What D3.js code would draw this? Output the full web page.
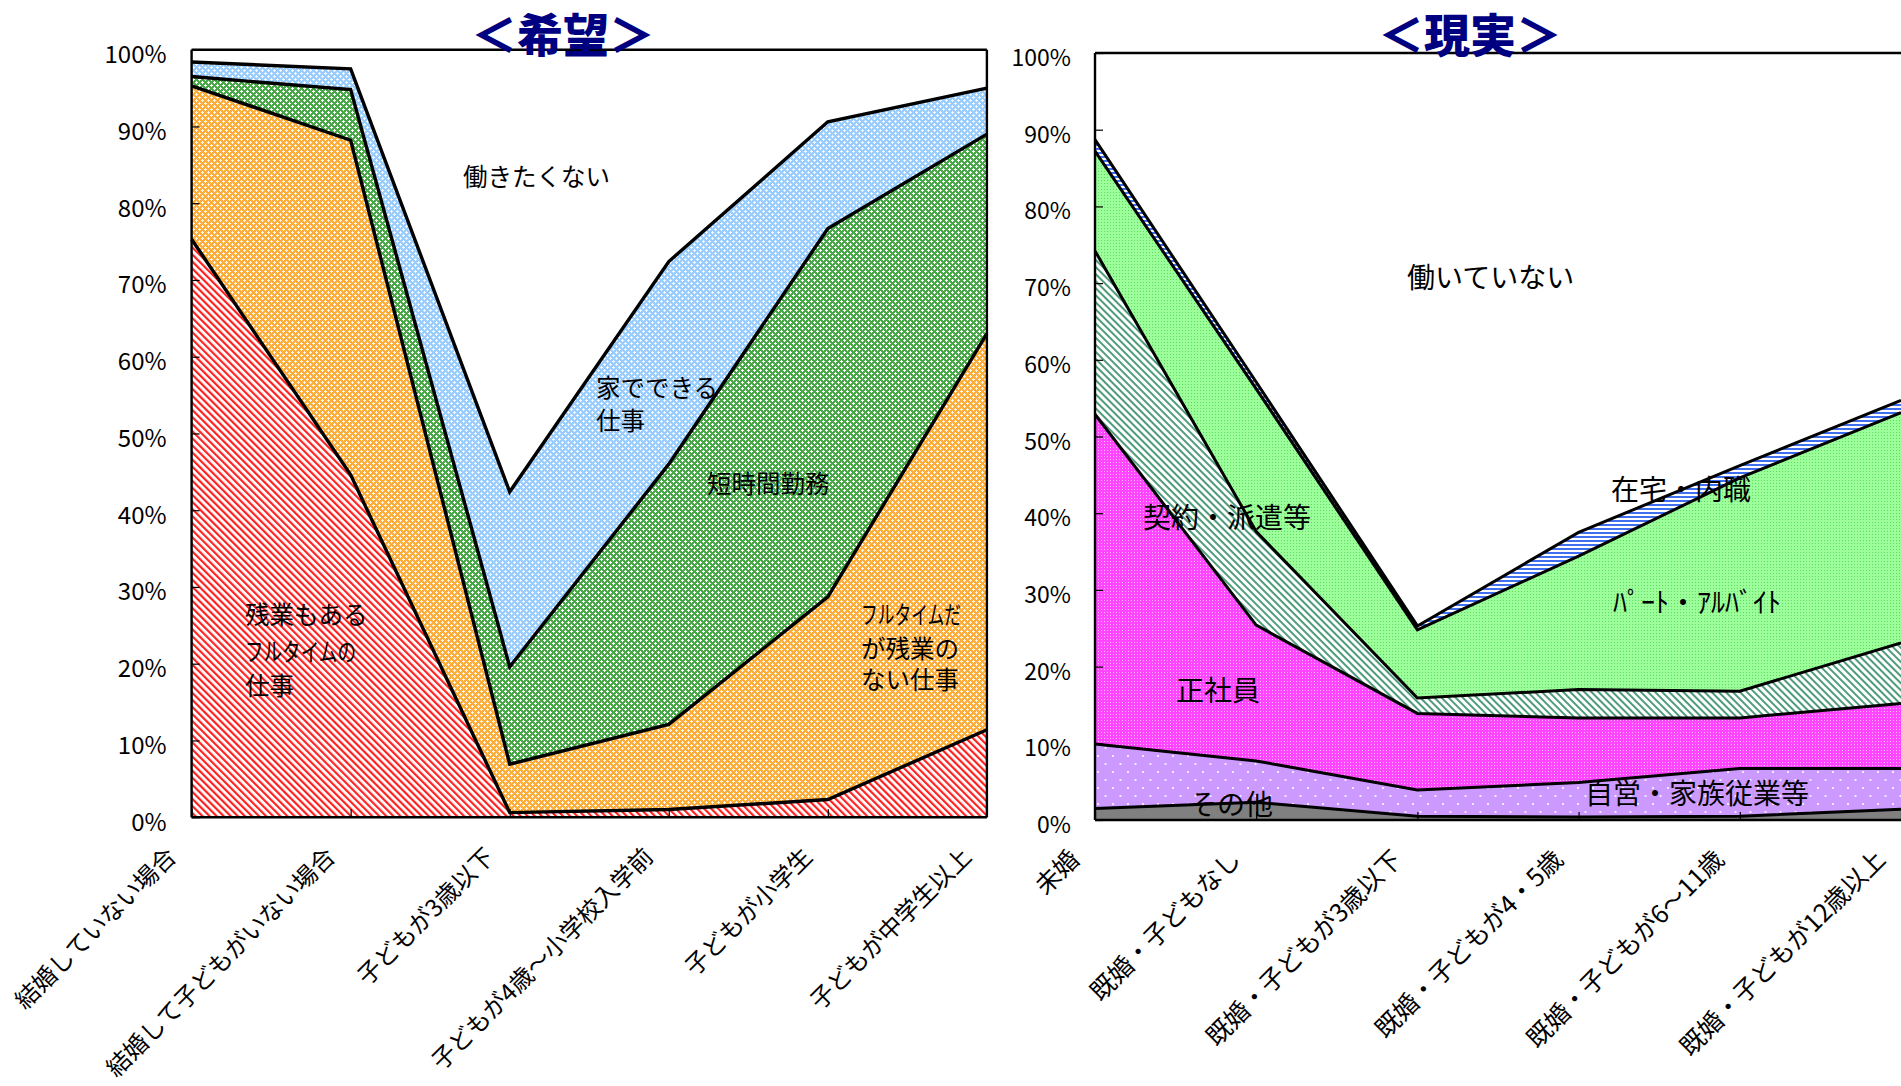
<!DOCTYPE html>
<html><head><meta charset="utf-8">
<script src="https://cdn.jsdelivr.net/npm/d3@7"></script>
<style>
html,body{margin:0;padding:0;background:#fff;}
svg{display:block;font-family:"Noto Sans CJK JP","Noto Sans",sans-serif;}
</style></head>
<body>
<svg id="chart" width="1901" height="1086"></svg>
<script>
// ---------- DATA ----------
const leftCategories = ["結婚していない場合","結婚して子どもがいない場合","子どもが3歳以下","子どもが4歳～小学校入学前","子どもが小学生","子どもが中学生以上"];
const leftSeriesNames = ["残業もあるフルタイムの仕事","フルタイムだが残業のない仕事","短時間勤務","家でできる仕事"];
const leftFullTimeOvertime = [75.3, 44.6, 0.6, 1.0, 2.3, 11.4];
const leftFullTimeNoOvertime = [20.0, 43.6, 6.3, 11.1, 26.4, 51.6];
const leftShortHours = [1.2, 6.6, 12.7, 33.9, 48.0, 26.0];
const leftWorkAtHome = [1.9, 2.7, 22.8, 26.4, 13.9, 6.0];

const rightCategories = ["未婚","既婚・子どもなし","既婚・子どもが3歳以下","既婚・子どもが4・5歳","既婚・子どもが6～11歳","既婚・子どもが12歳以上"];
const rightSeriesNames = ["その他","自営・家族従業等","正社員","契約・派遣等","パート・アルバイト","在宅・内職"];
const rightOther = [1.5, 2.3, 0.5, 0.4, 0.5, 1.4];
const rightSelfEmployed = [8.4, 5.4, 3.4, 4.5, 6.2, 5.3];
const rightRegular = [43.0, 17.7, 10.0, 8.4, 6.6, 8.5];
const rightContract = [21.3, 12.2, 2.0, 3.7, 3.5, 7.9];
const rightPartTime = [13.0, 18.6, 8.9, 17.4, 27.8, 30.0];
const rightHomeWork = [1.5, 0.9, 0.5, 3.1, 1.6, 1.6];

const yTickValues = [0,10,20,30,40,50,60,70,80,90,100];
const yTickLabels = ["0%","10%","20%","30%","40%","50%","60%","70%","80%","90%","100%"];

// ---------- SETUP ----------
const svg = d3.select("#chart");
const defs = svg.append("defs");

function plusPattern(id, bg, fg){
  const p = defs.append("pattern").attr("id",id).attr("patternUnits","userSpaceOnUse").attr("width",6).attr("height",6);
  p.append("rect").attr("width",6).attr("height",6).attr("fill",bg);
  [[0,0],[3,3]].forEach(([ox,oy])=>{
    p.append("rect").attr("x",ox+1).attr("y",oy).attr("width",1).attr("height",3).attr("fill",fg);
    p.append("rect").attr("x",ox).attr("y",oy+1).attr("width",3).attr("height",1).attr("fill",fg);
  });
}
function hatchPattern(id, color, w){
  const p = defs.append("pattern").attr("id",id).attr("patternUnits","userSpaceOnUse")
    .attr("width",5).attr("height",5).attr("patternTransform","rotate(-45)");
  p.append("rect").attr("width",5).attr("height",5).attr("fill","#fff");
  p.append("rect").attr("width",w).attr("height",5).attr("fill",color);
}
hatchPattern("pRed","#ff2020",2.2);
plusPattern("pOrange","#ffad3a","#fff6e6");
plusPattern("pGreen","#49a949","#ffffff");
plusPattern("pBlue","#99ccff","#f2f8ff");
hatchPattern("pTeal","#4f9c7c",2.0);
(function(){
  const p = defs.append("pattern").attr("id","pMag").attr("patternUnits","userSpaceOnUse").attr("width",3).attr("height",3);
  p.append("rect").attr("width",3).attr("height",3).attr("fill","#ff45ff");
  p.append("rect").attr("width",1).attr("height",1).attr("fill","#ffc0ff");
})();
(function(){
  const p = defs.append("pattern").attr("id","pLav").attr("patternUnits","userSpaceOnUse").attr("width",15).attr("height",16);
  p.append("rect").attr("width",15).attr("height",16).attr("fill","#cc99ff");
  p.append("rect").attr("x",2).attr("y",3).attr("width",2).attr("height",2).attr("fill","#f2e8ff");
  p.append("rect").attr("x",9.5).attr("y",11).attr("width",2).attr("height",2).attr("fill","#f2e8ff");
})();
(function(){
  const p = defs.append("pattern").attr("id","pLGreen").attr("patternUnits","userSpaceOnUse").attr("width",3).attr("height",3);
  p.append("rect").attr("width",3).attr("height",3).attr("fill","#9cff9c");
  p.append("rect").attr("width",1).attr("height",1).attr("fill","#5ade5a");
})();
(function(){
  const p = defs.append("pattern").attr("id","pStripe").attr("patternUnits","userSpaceOnUse").attr("width",4).attr("height",4);
  p.append("rect").attr("width",4).attr("height",4).attr("fill","#fff");
  p.append("rect").attr("width",4).attr("height",2).attr("fill","#3f6fee");
})();

function drawPanel(cfg){
  const g = svg.append("g");
  const x = d3.scalePoint().domain(d3.range(cfg.categories.length)).range([cfg.x0, cfg.x1]).padding(0);
  const y = d3.scaleLinear().domain([0,100]).range([cfg.yb, cfg.yt]);
  const rows = cfg.categories.map((c,i)=>{
    const r = {i};
    cfg.series.forEach((s,k)=>{ r["s"+k] = s[i]; });
    return r;
  });
  const keys = cfg.series.map((s,k)=>"s"+k);
  const stacked = d3.stack().keys(keys)(rows);
  const area = d3.area().x(d=>x(d.data.i)).y0(d=>y(d[0])).y1(d=>y(d[1]));
  const line = d3.line().x(d=>x(d.data.i)).y(d=>y(d[1]));
  g.append("rect").attr("x",cfg.x0).attr("y",cfg.yt).attr("width",cfg.x1-cfg.x0).attr("height",cfg.yb-cfg.yt).attr("fill","#fff");
  g.selectAll("path.area").data(stacked).join("path").attr("class","area")
    .attr("d",area).attr("fill",(d,k)=>cfg.fills[k]).attr("stroke","none");
  g.selectAll("path.top").data(stacked).join("path").attr("class","top")
    .attr("d",line).attr("fill","none").attr("stroke","#000").attr("stroke-width",cfg.lw).attr("stroke-linejoin","miter");
  // frame
  const f = g.append("g").attr("stroke","#000").attr("stroke-width",2.4).attr("fill","none");
  f.append("line").attr("x1",cfg.x0).attr("x2",cfg.frameRight).attr("y1",cfg.yt).attr("y2",cfg.yt);
  f.append("line").attr("x1",cfg.x0).attr("x2",cfg.frameRight).attr("y1",cfg.yb).attr("y2",cfg.yb);
  f.append("line").attr("x1",cfg.x0).attr("x2",cfg.x0).attr("y1",cfg.yt).attr("y2",cfg.yb);
  if(cfg.drawRight) f.append("line").attr("x1",cfg.x1).attr("x2",cfg.x1).attr("y1",cfg.yt).attr("y2",cfg.yb);
  // y axis ticks (inside)
  const ya = d3.axisRight(y).tickValues(yTickValues).tickSize(8).tickFormat("");
  g.append("g").attr("transform",`translate(${cfg.x0},0)`).call(ya).call(s=>s.select(".domain").remove())
    .selectAll("line").attr("stroke","#000").attr("stroke-width",1.2);
  // y labels
  g.selectAll("text.yl").data(yTickValues).join("text").attr("class","yl")
    .attr("x",cfg.x0-cfg.labelGap).attr("y",d=>y(d)+3).attr("text-anchor","end").attr("dominant-baseline","central")
    .attr("font-size",cfg.tickFont).attr("fill","#000").text((d,i)=>yTickLabels[i]);
  // x ticks (inside, upward)
  const xa = d3.axisTop(x).tickSize(8).tickFormat("");
  g.append("g").attr("transform",`translate(0,${cfg.yb})`).call(xa).call(s=>s.select(".domain").remove())
    .selectAll("line").attr("stroke","#000").attr("stroke-width",1.2);
  // x labels rotated
  g.selectAll("text.xl").data(cfg.categories).join("text").attr("class","xl")
    .attr("transform",(d,i)=>`translate(${x(i)-14},${cfg.yb+41}) rotate(-45)`)
    .attr("text-anchor","end").attr("font-size",cfg.xFont).attr("fill","#000").text(d=>d);
  return g;
}

drawPanel({
  categories:leftCategories,
  series:[leftFullTimeOvertime,leftFullTimeNoOvertime,leftShortHours,leftWorkAtHome],
  fills:["url(#pRed)","url(#pOrange)","url(#pGreen)","url(#pBlue)"],
  x0:191.6,x1:986.9,yt:49.7,yb:817.2,frameRight:986.9,drawRight:true,lw:3.4,
  labelGap:25,tickFont:24,xFont:24
});
drawPanel({
  categories:rightCategories,
  series:[rightOther,rightSelfEmployed,rightRegular,rightContract,rightPartTime,rightHomeWork],
  fills:["#808080","url(#pLav)","url(#pMag)","url(#pTeal)","url(#pLGreen)","url(#pStripe)"],
  x0:1095,x1:1901,yt:53,yb:820,frameRight:1901,drawRight:false,lw:3,
  labelGap:24,tickFont:23,xFont:25
});

// in-chart labels
const leftLabels = [
  {t:"働きたくない",x:463,y:175},
  {t:"家でできる",x:596,y:386},{t:"仕事",x:596,y:419},
  {t:"短時間勤務",x:707,y:482},
  {t:"フルタイムだ",x:861,y:613,len:100},{t:"が残業の",x:861,y:647},{t:"ない仕事",x:861,y:678},
  {t:"残業もある",x:245,y:613},{t:"フルタイムの",x:245,y:650,len:111},{t:"仕事",x:245,y:684}
];
const rightLabels = [
  {t:"働いていない",x:1407,y:276},
  {t:"在宅・内職",x:1611,y:488},
  {t:"契約・派遣等",x:1143,y:516},
  {t:"ﾊﾟｰﾄ・ｱﾙﾊﾞｲﾄ",x:1613,y:601},
  {t:"正社員",x:1176,y:689},
  {t:"自営・家族従業等",x:1585,y:792},
  {t:"その他",x:1189,y:803}
];
const ll = svg.append("g").selectAll("text").data(leftLabels).join("text")
  .attr("x",d=>d.x).attr("y",d=>d.y).attr("dominant-baseline","central").attr("font-size",24.5)
  .attr("fill","#000").text(d=>d.t);
ll.filter(d=>d.len).attr("textLength",d=>d.len).attr("lengthAdjust","spacingAndGlyphs");
svg.append("g").selectAll("text").data(rightLabels).join("text")
  .attr("x",d=>d.x).attr("y",d=>d.y).attr("dominant-baseline","central").attr("font-size",28)
  .attr("fill","#000").text(d=>d.t);

// titles
svg.append("text").attr("x",563).attr("y",32).attr("text-anchor","middle").attr("dominant-baseline","central")
  .attr("font-size",46).attr("font-weight",900).attr("fill","#000080").text("＜希望＞");
svg.append("text").attr("x",1470).attr("y",32).attr("text-anchor","middle").attr("dominant-baseline","central")
  .attr("font-size",46).attr("font-weight",900).attr("fill","#000080").text("＜現実＞");
</script>
</body></html>
